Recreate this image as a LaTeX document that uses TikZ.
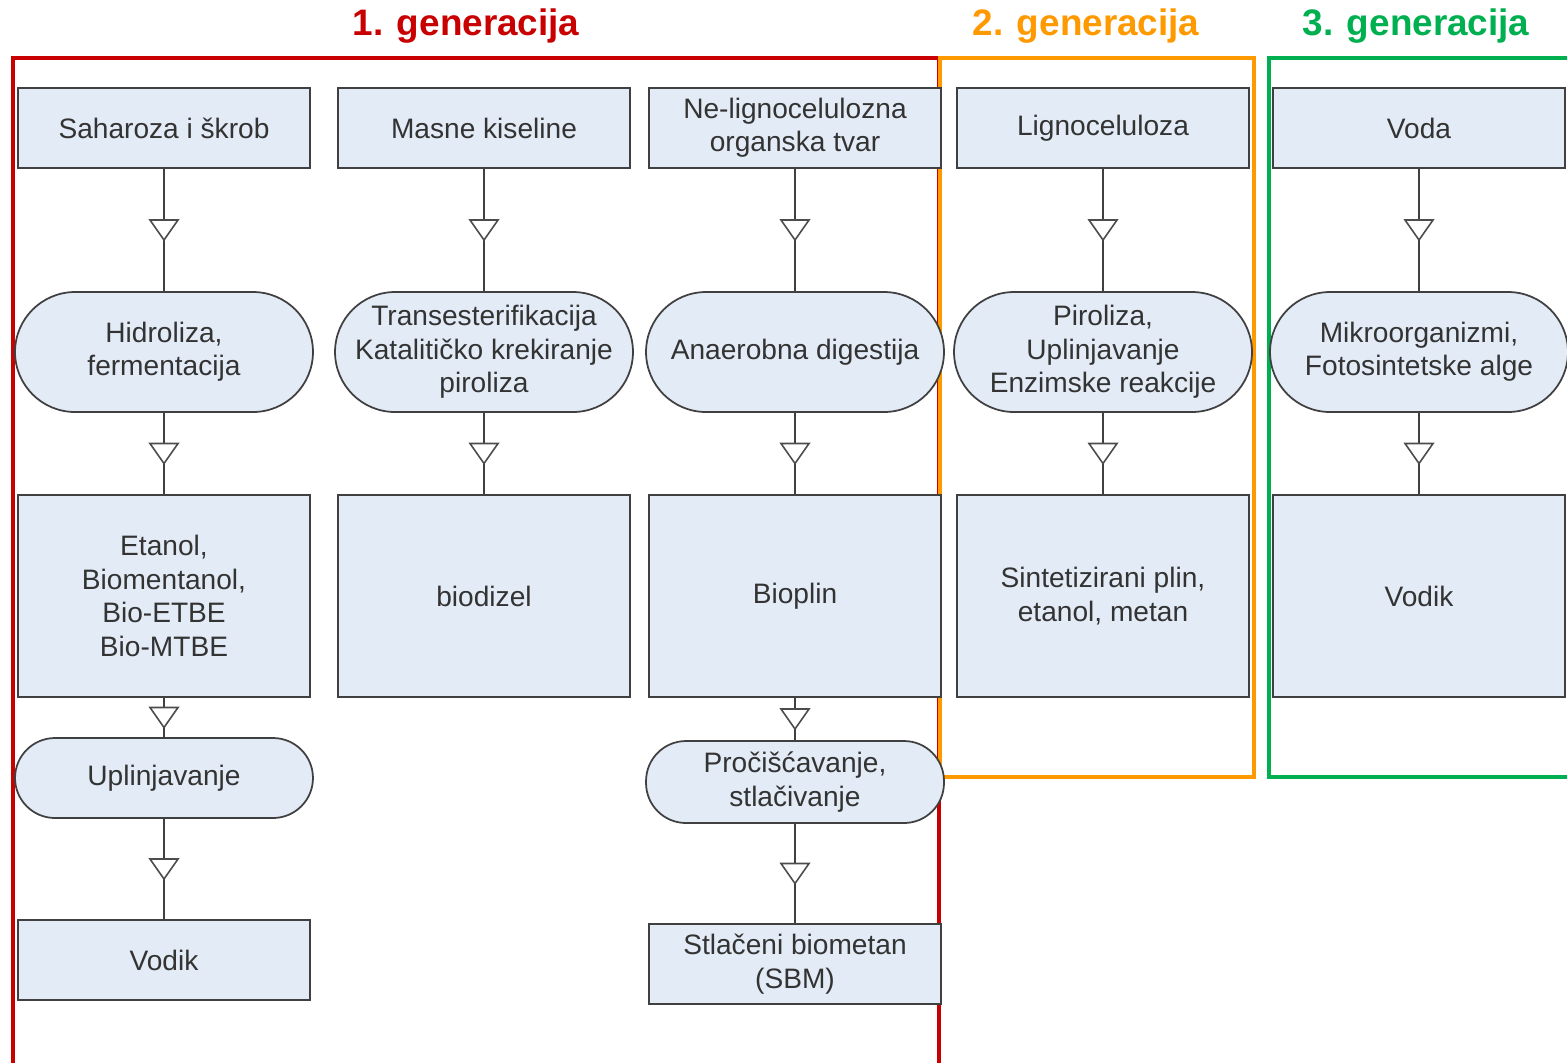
\documentclass[tikz,border=0pt]{standalone}
\usepackage{fontspec}
\setmainfont{Liberation Sans}
\usetikzlibrary{decorations.markings}

\definecolor{rojo}{RGB}{200,0,0}
\definecolor{naranja}{RGB}{255,153,0}
\definecolor{verde}{RGB}{0,176,80}
\definecolor{relleno}{RGB}{227,235,246}

\tikzset{
  caja/.style={draw=black!75, line width=1pt, fill=relleno, text=black!80,
    minimum width=5.84cm, minimum height=1.6cm, align=center,
    font=\fontsize{16}{19}\selectfont},
  cajagrande/.style={caja, minimum height=4.04cm},
  proceso/.style={caja, minimum width=5.96cm, minimum height=2.4cm, rounded corners=1.2cm},
  procesochico/.style={caja, minimum width=5.96cm, minimum height=1.6cm, rounded corners=0.8cm},
  flecha/.style={draw=black!75, line width=1pt, postaction={decorate},
    decoration={markings, mark=at position 0.5 with {
      \draw[black!70, fill=white, line width=0.9pt] (-0.2cm,0.28cm) -- (0.2cm,0) -- (-0.2cm,-0.28cm) -- cycle;}}},
  titulo/.style={font=\fontsize{21}{25}\selectfont\bfseries}
}

\begin{document}
\begin{tikzpicture}[x=0.02cm, y=-0.02cm]
  \useasboundingbox (0,0) rectangle (1567,1063);

  % Marcos
  \draw[rojo, line width=2.8pt] (13,1063) -- (13,58) -- (939,58) -- (939,1063);
  \draw[verde, line width=2.8pt] (1567,58) -- (1269,58) -- (1269,777) -- (1567,777);
  \draw[naranja, line width=2.8pt] (940,58) rectangle (1254,777);

  % Titulos
  \node[titulo, text=rojo] (gen1) at (466,26) {1. generacija};
  \node[titulo, text=naranja] (gen2) at (1086,26) {2. generacija};
  \node[titulo, text=verde] (gen3) at (1416,26) {3. generacija};

  % Columna 1
  \node[caja] (sah) at (164,128) {Saharoza i škrob};
  \node[proceso] (hid) at (164,352) {Hidroliza,\\fermentacija};
  \node[cajagrande] (eta) at (164,596) {Etanol,\\Biomentanol,\\Bio-ETBE\\Bio-MTBE};
  \node[procesochico] (upl) at (164,778) {Uplinjavanje};
  \node[caja] (vod1) at (164,960) {Vodik};

  % Columna 2
  \node[caja] (mas) at (484,128) {Masne kiseline};
  \node[proceso] (tra) at (484,352) {Transesterifikacija\\Katalitičko krekiranje\\piroliza};
  \node[cajagrande] (bid) at (484,596) {biodizel};

  % Columna 3
  \node[caja] (nel) at (795,128) {Ne-lignocelulozna\\organska tvar};
  \node[proceso] (ana) at (795,352) {Anaerobna digestija};
  \node[cajagrande] (bio) at (795,596) {Bioplin};
  \node[procesochico, minimum height=1.64cm] (pro) at (795,782) {Pročišćavanje,\\stlačivanje};
  \node[caja] (sbm) at (795,964) {Stlačeni biometan\\(SBM)};

  % Columna 4
  \node[caja] (lig) at (1103,128) {Lignoceluloza};
  \node[proceso] (pir) at (1103,352) {Piroliza,\\Uplinjavanje\\Enzimske reakcije};
  \node[cajagrande] (sin) at (1103,596) {Sintetizirani plin,\\etanol, metan};

  % Columna 5
  \node[caja] (vod) at (1419,128) {Voda};
  \node[proceso] (mik) at (1419,352) {Mikroorganizmi,\\Fotosintetske alge};
  \node[cajagrande] (vod2) at (1419,596) {Vodik};

  % Flechas
  \draw[flecha] (sah) -- (hid);
  \draw[flecha] (hid) -- (eta);
  \draw[flecha] (eta) -- (upl);
  \draw[flecha] (upl) -- (vod1);
  \draw[flecha] (mas) -- (tra);
  \draw[flecha] (tra) -- (bid);
  \draw[flecha] (nel) -- (ana);
  \draw[flecha] (ana) -- (bio);
  \draw[flecha] (bio) -- (pro);
  \draw[flecha] (pro) -- (sbm);
  \draw[flecha] (lig) -- (pir);
  \draw[flecha] (pir) -- (sin);
  \draw[flecha] (vod) -- (mik);
  \draw[flecha] (mik) -- (vod2);
\end{tikzpicture}
\end{document}
